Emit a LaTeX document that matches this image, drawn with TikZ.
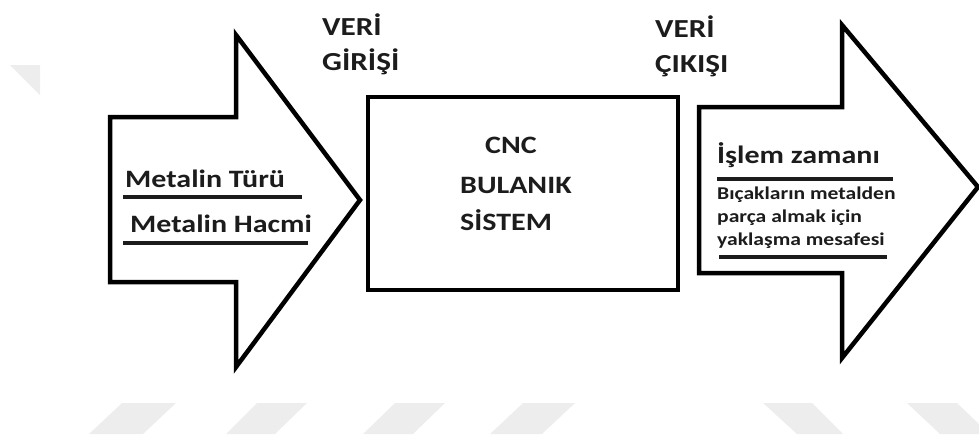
\documentclass[tikz,border=0pt]{standalone}
\usepackage{fontspec}
\setmainfont{Carlito}[FakeStretch=1.2]
\definecolor{ink}{HTML}{1C1C1C}
\definecolor{faint}{HTML}{EDEDED}
\begin{document}
\begin{tikzpicture}[x=1pt,y=-1pt,
  outline/.style={draw=black, line width=4.5pt, line join=miter},
  rule/.style={draw=ink, line width=4.5pt},
  lbl/.style={inner sep=0pt, anchor=base west, text=ink},
  big/.style={lbl, font=\bfseries\fontsize{26}{30}\selectfont},
  mid/.style={lbl, font=\bfseries\fontsize{25}{30}\selectfont},
  small/.style={lbl, font=\bfseries\fontsize{18}{22}\selectfont},
  stripe/.style={fill=faint}]
\useasboundingbox (0,0) rectangle (979,440);

% faint background stripes
\fill[stripe] (10,65) -- (40,65) -- (40,95) -- cycle;
\fill[stripe] (89,434) -- (122,403) -- (176,403) -- (143,434) -- cycle;
\fill[stripe] (226,434) -- (257,403) -- (307,403) -- (275,434) -- cycle;
\fill[stripe] (363,434) -- (395,403) -- (445,403) -- (413,434) -- cycle;
\fill[stripe] (490,434) -- (523,403) -- (575,403) -- (542,434) -- cycle;
\fill[stripe] (763,403) -- (812,403) -- (843,434) -- (797,434) -- cycle;
\fill[stripe] (907,403) -- (957,403) -- (979,424) -- (979,434) -- (940,434) -- cycle;

% input arrow
\draw[outline] (110,117) -- (236,117) -- (236,35) -- (360,200)
  -- (236,367) -- (236,282) -- (110,282) -- cycle;
% central block
\draw[outline] (368,97) rectangle (678,290);
% output arrow
\draw[outline] (699,107) -- (842,107) -- (842,25) -- (978,187)
  -- (842,358) -- (842,273) -- (699,273) -- cycle;

% captions above
\node[big] (in1) at (322,35) {VERİ};
\node[big] (in2) at (322,70) {GİRİŞİ};
\node[big] (out1) at (655,37) {VERİ};
\node[big] (out2) at (655,72) {ÇIKIŞI};

% input list
\node[mid] (m1) at (125,187) {Metalin Türü};
\draw[rule] (123,197) -- (302,197);
\node[mid] (m2) at (130,232) {Metalin Hacmi};
\draw[rule] (123,243) -- (308,243);

% block text
\node[mid] (c1) at (485,153) {CNC};
\node[mid] (c2) at (460,193) {BULANIK};
\node[mid] (c3) at (460,230) {SİSTEM};

% output list
\node[mid] (o1) at (717,163) {İşlem zamanı};
\draw[rule] (717,179) -- (893,179);
\node[small] (o2) at (717,199) {Bıçakların metalden};
\node[small] (o3) at (717,222) {parça almak için};
\node[small] (o4) at (717,245) {yaklaşma mesafesi};
\draw[rule] (719,257) -- (887,257);
\end{tikzpicture}
\end{document}
